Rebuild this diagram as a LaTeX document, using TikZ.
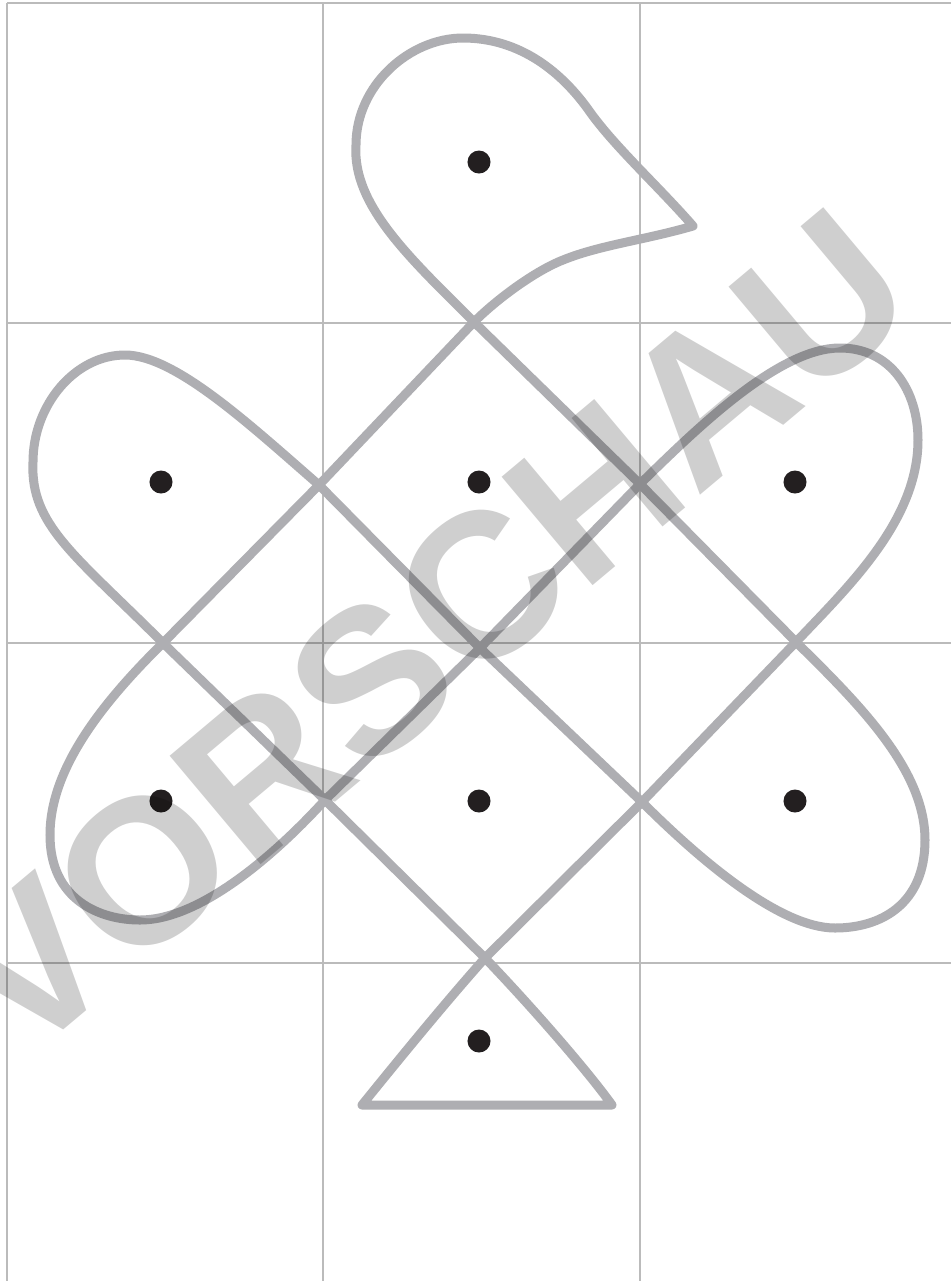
\documentclass[tikz,border=0pt]{standalone}
\usepackage{fontspec}
\newfontfamily\wmfont{Liberation Sans}
\definecolor{kolamgray}{RGB}{174,174,178}
\definecolor{gridgray}{RGB}{187,187,187}
\definecolor{dotblack}{RGB}{35,31,32}
\begin{document}
\begin{tikzpicture}[x=0.01cm,y=-0.01cm,
  gridline/.style={draw=gridgray,line width=0.015cm},
  kolam/.style={draw=kolamgray,line width=0.09cm,line cap=round,line join=round},
  dotnode/.style={circle,fill=dotblack,inner sep=0pt,minimum size=0.23cm},
  wm/.style={rotate=40,inner sep=0pt,text=black,text opacity=0.19,
    font=\wmfont\bfseries\fontsize{58.5}{60}\selectfont}]
\useasboundingbox (0,0) rectangle (951,1281);
\fill[white] (0,0) rectangle (951,1281);
% grid
\draw[gridline] (7,3) -- (951,3);
\draw[gridline] (7,323) -- (951,323);
\draw[gridline] (7,643) -- (951,643);
\draw[gridline] (7,963) -- (951,963);
\draw[gridline] (7,3) -- (7,1281);
\draw[gridline] (323,3) -- (323,1281);
\draw[gridline] (640,3) -- (640,1281);
% crossings
\coordinate (T) at (474,322);
\coordinate (L) at (319,485);
\coordinate (R) at (640,484);
\coordinate (C) at (480,648);
\coordinate (LL) at (163,643);
\coordinate (RL) at (796,642);
\coordinate (BL) at (325,800);
\coordinate (BR) at (642,802);
\coordinate (B) at (485,958);
\coordinate (tip) at (693,226);
\coordinate (triL) at (362,1105);
\coordinate (triR) at (612,1105);
% straight diagonals
\draw[kolam] (T) -- (R) -- (RL);
\draw[kolam] (T) -- (L) -- (LL);
\draw[kolam] (L) -- (C) -- (BR);
\draw[kolam] (R) -- (C) -- (BL);
\draw[kolam] (LL) -- (BL) -- (B);
\draw[kolam] (RL) -- (BR) -- (B);
% top teardrop
\draw[kolam] (T) .. controls (410,258) and (352,205) .. (356,145)
  .. controls (356,85) and (410,38) .. (463,38)
  .. controls (520,38) and (562,72) .. (590,112)
  .. controls (615,147) and (660,188) .. (tip)
  .. controls (645,240) and (600,245) .. (563,260)
  .. controls (535,271) and (497,299) .. (T);
% left upper lobe
\draw[kolam] (L) .. controls (250,425) and (175,355) .. (125,355)
  .. controls (75,355) and (33,405) .. (33,462)
  .. controls (30,525) and (75,555) .. (LL);
% right upper lobe
\draw[kolam] (R) .. controls (700,425) and (780,348) .. (840,348)
  .. controls (890,348) and (918,390) .. (918,440)
  .. controls (918,520) and (850,585) .. (RL);
% bottom left lobe
\draw[kolam] (LL) .. controls (100,705) and (50,770) .. (50,835)
  .. controls (50,900) and (100,920) .. (140,920)
  .. controls (200,920) and (275,855) .. (BL);
% bottom right lobe
\draw[kolam] (RL) .. controls (860,705) and (925,770) .. (925,840)
  .. controls (925,905) and (880,928) .. (835,928)
  .. controls (780,928) and (700,860) .. (BR);
% triangle
\draw[kolam] (B) .. controls (445,1003) and (400,1058) .. (triL)
  -- (triR)
  .. controls (587,1070) and (530,1005) .. (B);
% dots
\node[dotnode] (d1) at (479,162) {};
\node[dotnode] (d2) at (161,482) {};
\node[dotnode] (d3) at (479,482) {};
\node[dotnode] (d4) at (795,482) {};
\node[dotnode] (d5) at (161,801) {};
\node[dotnode] (d6) at (479,801) {};
\node[dotnode] (d7) at (795,801) {};
\node[dotnode] (d8) at (479,1041) {};
% watermark
\node[wm] (wmark) at (428,632) {VORSCHAU};
\end{tikzpicture}
\end{document}
